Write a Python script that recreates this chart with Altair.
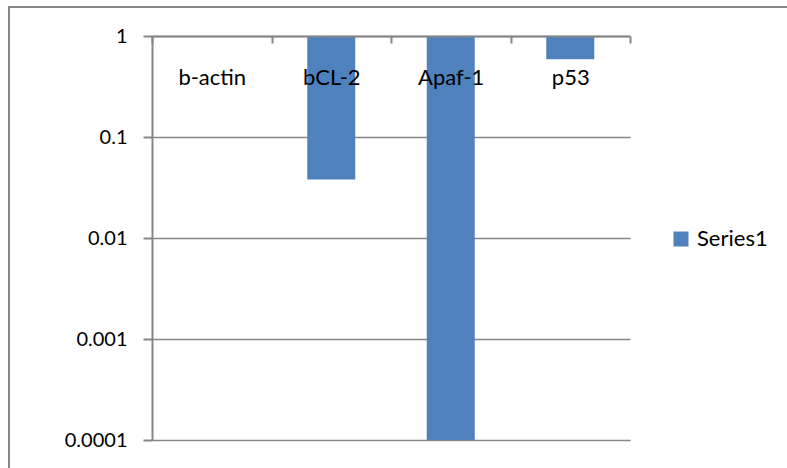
import altair as alt
import pandas as pd

categories = ["b-actin", "bCL-2", "Apaf-1", "p53"]
values = [1.0, 0.038, 0.0001, 0.59]
baseline = [1.0, 1.0, 1.0, 1.0]
series = ["Series1", "Series1", "Series1", "Series1"]
y_ticks = [1, 0.1, 0.01, 0.001, 0.0001]

df = pd.DataFrame({"cat": categories, "value": values, "base": baseline, "series": series})

FONT = "Lato"
GREY = "#868686"

bars = alt.Chart(df).mark_bar(size=48).encode(
    x=alt.X("cat:N", sort=categories, title=None,
            scale=alt.Scale(paddingInner=0, paddingOuter=0),
            axis=alt.Axis(orient="bottom", offset=-404, tickBand="extent",
                          labelAngle=0, labelFontSize=22, labelFont=FONT,
                          labelColor="black", labelPadding=24, tickSize=7,
                          tickColor=GREY, tickWidth=2, domainColor=GREY,
                          domainWidth=2, grid=False, zindex=1)),
    y=alt.Y("value:Q", title=None,
            scale=alt.Scale(type="log", domain=[0.0001, 1], nice=False),
            axis=alt.Axis(values=y_ticks, format="~g", labelFontSize=20,
                          labelFont=FONT, labelColor="black", labelPadding=16,
                          tickSize=9, tickColor=GREY, tickWidth=2,
                          domainColor=GREY, domainWidth=2, gridColor=GREY,
                          gridWidth=1.5, grid=True)),
    y2="base:Q",
    color=alt.Color("series:N", scale=alt.Scale(range=["#4F81BD"]),
                    legend=alt.Legend(orient="none", legendX=518, legendY=192,
                                      title=None, symbolType="square",
                                      symbolSize=225, symbolStrokeWidth=0,
                                      labelFontSize=22, labelFont=FONT,
                                      labelColor="black", labelOffset=5)),
)

border = alt.Chart(pd.DataFrame({"a": [0]})).mark_rect(
    fill=None, stroke=GREY, strokeWidth=2
).encode(
    x=alt.value(-143), x2=alt.value(700), y=alt.value(-29), y2=alt.value(500)
)

chart = alt.layer(border, bars).properties(
    width=478, height=404,
    autosize=alt.AutoSizeParams(type="none"),
    padding={"left": 152, "top": 36, "right": 157, "bottom": 28},
    background="white",
).configure_view(stroke=None)

chart.save("out.html", embed_options={"renderer": "svg", "actions": False})
